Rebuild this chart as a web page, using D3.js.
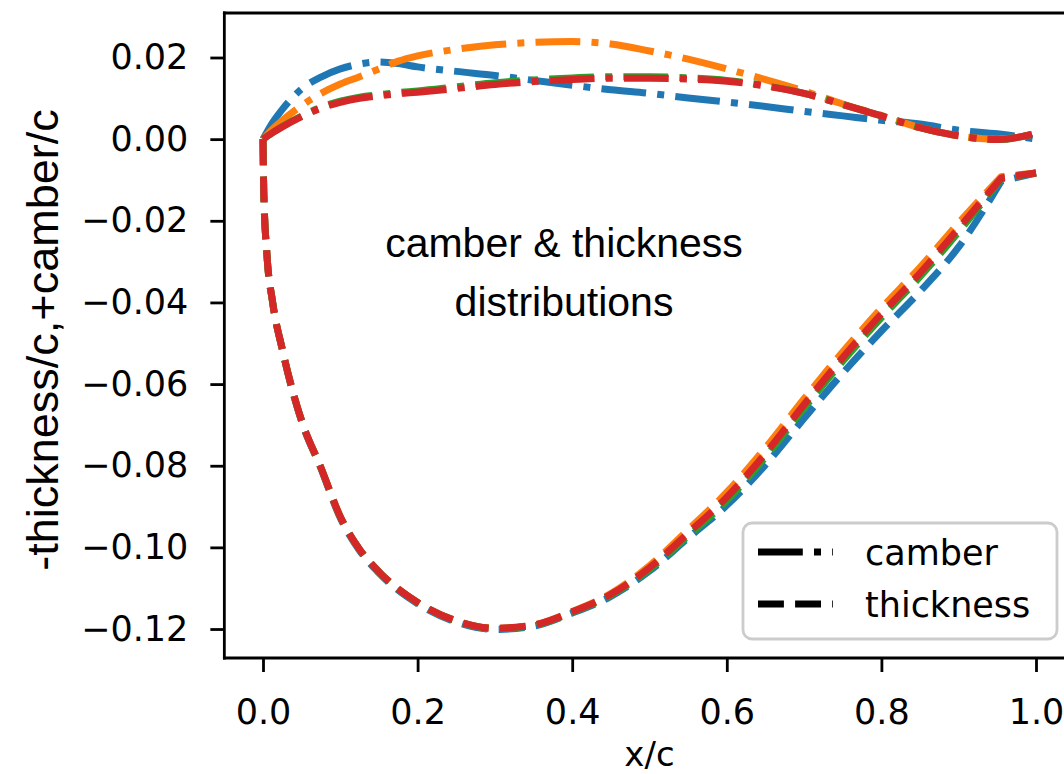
<!DOCTYPE html>
<html>
<head>
<meta charset="utf-8">
<script src="https://cdn.jsdelivr.net/npm/d3@7"></script>
<style>
  html, body { margin: 0; padding: 0; background: #ffffff; }
  svg { display: block; }
</style>
</head>
<body>
<svg id="chart" width="1064" height="774"></svg>
<script>
// ---------- data ----------
const seriesNames = ["airfoil 1", "airfoil 2", "airfoil 3", "airfoil 4"];
const seriesColors = ["#1f77b4", "#ff7f0e", "#2ca02c", "#d62728"];

const camberX = [0, 0.0125, 0.025, 0.05, 0.075, 0.1, 0.125, 0.15, 0.175, 0.2, 0.25, 0.3, 0.35, 0.4, 0.45, 0.5, 0.55, 0.6, 0.65, 0.7, 0.75, 0.8, 0.85, 0.9, 0.95, 1.0];
const camber1 = [0, 0.0041, 0.0073, 0.0123, 0.0152, 0.0172, 0.0184, 0.0189, 0.0185, 0.0177, 0.0166, 0.0156, 0.0144, 0.0132, 0.0121, 0.0112, 0.0101, 0.0091, 0.0080, 0.0068, 0.0057, 0.0046, 0.0037, 0.0022, 0.0013, 0.0000];
const camber2 = [0, 0.0025, 0.0046, 0.0082, 0.0112, 0.0135, 0.0153, 0.0172, 0.0191, 0.0204, 0.0220, 0.0231, 0.0237, 0.0239, 0.0233, 0.0216, 0.0196, 0.0172, 0.0146, 0.0118, 0.0086, 0.0058, 0.0028, 0.0008, 0.0000, 0.0014];
const camber3 = [0, 0.0016, 0.0031, 0.0057, 0.0078, 0.0093, 0.0103, 0.0109, 0.0114, 0.0118, 0.0128, 0.0138, 0.0145, 0.0150, 0.0153, 0.0153, 0.0150, 0.0144, 0.0131, 0.0112, 0.0085, 0.0057, 0.0028, 0.0008, -0.0001, 0.0014];
const camber4 = [0, 0.0016, 0.0030, 0.0055, 0.0076, 0.0090, 0.0100, 0.0106, 0.0111, 0.0115, 0.0124, 0.0134, 0.0141, 0.0146, 0.0149, 0.0149, 0.0147, 0.0142, 0.0130, 0.0112, 0.0085, 0.0057, 0.0028, 0.0008, -0.0001, 0.0014];

const thickX = [0, 0.001, 0.005, 0.0125, 0.025, 0.05, 0.075, 0.1, 0.125, 0.15, 0.2, 0.25, 0.3, 0.35, 0.4, 0.45, 0.5, 0.55, 0.6, 0.65, 0.7, 0.75, 0.8, 0.85, 0.9, 0.955, 1.0];
const thick1 = [0, -0.013, -0.028, -0.040, -0.0516, -0.0692, -0.0807, -0.0928, -0.1008, -0.1063, -0.1138, -0.1183, -0.1201, -0.1193, -0.1161, -0.1120, -0.1058, -0.0977, -0.0897, -0.0798, -0.0684, -0.0573, -0.0470, -0.0373, -0.0264, -0.0103, -0.0083];
const thick2 = [0, -0.013, -0.028, -0.040, -0.0515, -0.069, -0.0805, -0.0925, -0.1005, -0.106, -0.1135, -0.118, -0.1198, -0.119, -0.1157, -0.1113, -0.1045, -0.0957, -0.0865, -0.0756, -0.0636, -0.0521, -0.0414, -0.0314, -0.0205, -0.0092, -0.0083];
const thick3 = [0, -0.013, -0.028, -0.040, -0.0515, -0.069, -0.0805, -0.0925, -0.1005, -0.106, -0.1135, -0.118, -0.1199, -0.1191, -0.1159, -0.1117, -0.1054, -0.0972, -0.0886, -0.0779, -0.0659, -0.0544, -0.0437, -0.0337, -0.0227, -0.0097, -0.0083];
const thick4 = [0, -0.013, -0.028, -0.040, -0.0515, -0.069, -0.0805, -0.0925, -0.1005, -0.106, -0.1135, -0.118, -0.1198, -0.119, -0.1158, -0.1115, -0.105, -0.0965, -0.0877, -0.0770, -0.0650, -0.0535, -0.0428, -0.0328, -0.0218, -0.0095, -0.0083];

const xTicks = [0.0, 0.2, 0.4, 0.6, 0.8, 1.0];
const yTicks = [0.02, 0.00, -0.02, -0.04, -0.06, -0.08, -0.10, -0.12];
const legendLabels = ["camber", "thickness"];
const annotationLines = ["camber & thickness", "distributions"];
const xLabel = "x/c";
const yLabel = "-thickness/c,+camber/c";

const cambers = [camber1, camber2, camber3, camber4];
const thicks = [thick1, thick2, thick3, thick4];

// ---------- layout ----------
const svg = d3.select("#chart");
const plot = { left: 224.35, right: 1074.65, top: 13, bottom: 658 };
const x = d3.scaleLinear().domain([-0.05, 1.05]).range([plot.left, plot.right]);
const y = d3.scaleLinear().domain([-0.1271, 0.0309]).range([plot.bottom, plot.top]);

const LW = 7;
const dashDot = [6.4 * LW, 1.6 * LW, 1 * LW, 1.6 * LW].join(",");
const dashed = [3.7 * LW, 1.6 * LW].join(",");

svg.append("rect").attr("width", 1064).attr("height", 774).attr("fill", "#fff");

svg.append("defs").append("clipPath").attr("id", "clip")
  .append("rect")
  .attr("x", plot.left).attr("y", plot.top)
  .attr("width", plot.right - plot.left).attr("height", plot.bottom - plot.top);

const line = d3.line().x(d => x(d[0])).y(d => y(d[1])).curve(d3.curveMonotoneX);
// thickness: smooth up to the trailing-edge tip, then a straight segment
const thickPath = pts => {
  const body = pts.slice(0, pts.length - 1);
  const last = pts[pts.length - 1];
  return line(body) + `L${x(last[0])},${y(last[1])}`;
};

const g = svg.append("g").attr("clip-path", "url(#clip)");
seriesNames.forEach((name, i) => {
  const cData = camberX.map((xv, k) => [xv, cambers[i][k]]);
  const tData = thickX.map((xv, k) => [xv, thicks[i][k]]);
  g.append("path").datum(cData)
    .attr("d", line).attr("fill", "none")
    .attr("stroke", seriesColors[i]).attr("stroke-width", LW)
    .attr("stroke-dasharray", dashDot).attr("stroke-linecap", "butt")
    .attr("stroke-linejoin", "round");
  g.append("path").datum(tData)
    .attr("d", thickPath).attr("fill", "none")
    .attr("stroke", seriesColors[i]).attr("stroke-width", LW)
    .attr("stroke-dasharray", dashed).attr("stroke-linecap", "butt")
    .attr("stroke-linejoin", "round");
});

// ---------- axes ----------
const fmtY = v => (v < 0 ? "\u2212" : "") + Math.abs(v).toFixed(2);
const yAxis = d3.axisLeft(y).tickValues(yTicks).tickFormat(fmtY).tickSize(14).tickPadding(22);
const xAxis = d3.axisBottom(x).tickValues(xTicks).tickFormat(d3.format(".1f")).tickSize(14).tickPadding(27);

const ya = svg.append("g").attr("transform", `translate(${plot.left},0)`).call(yAxis);
const xa = svg.append("g").attr("transform", `translate(0,${plot.bottom})`).call(xAxis);
[ya, xa].forEach(a => {
  a.select(".domain").remove();
  a.selectAll(".tick line").attr("stroke", "#000").attr("stroke-width", 2.8);
  a.selectAll(".tick text").attr("fill", "#000")
    .style("font-family", "'DejaVu Sans', sans-serif").style("font-size", "35px");
});

// spines
const spine = (x1, y1, x2, y2) => svg.append("line")
  .attr("x1", x1).attr("y1", y1).attr("x2", x2).attr("y2", y2)
  .attr("stroke", "#000").attr("stroke-width", 2.8).attr("stroke-linecap", "square");
spine(plot.left, plot.top, plot.left, plot.bottom);
spine(plot.left, plot.top, plot.right, plot.top);
spine(plot.left, plot.bottom, plot.right, plot.bottom);
spine(plot.right, plot.top, plot.right, plot.bottom);

// axis labels
svg.append("text").text(xLabel)
  .attr("x", (plot.left + plot.right) / 2).attr("y", 766)
  .attr("text-anchor", "middle")
  .style("font-family", "'DejaVu Sans', sans-serif").style("font-size", "34px");

svg.append("text").text(yLabel)
  .attr("transform", `translate(58,340) rotate(-90)`)
  .attr("text-anchor", "middle")
  .style("font-family", "'Liberation Sans', Arial, sans-serif").style("font-size", "45px");

// annotation
annotationLines.forEach((t, i) => {
  svg.append("text").text(t)
    .attr("x", 564).attr("y", 257 + i * 59)
    .attr("text-anchor", "middle")
    .style("font-family", "'Liberation Sans', Arial, sans-serif").style("font-size", "41px");
});

// legend
const lg = svg.append("g");
lg.append("rect").attr("x", 743).attr("y", 523).attr("width", 314).attr("height", 116)
  .attr("rx", 9).attr("fill", "#fff").attr("fill-opacity", 0.8)
  .attr("stroke", "#cccccc").attr("stroke-width", 2.8);
const legDash = [dashDot, dashed];
legendLabels.forEach((lab, i) => {
  const ly = 552 + i * 52;
  lg.append("line").attr("x1", 758).attr("x2", 833).attr("y1", ly).attr("y2", ly)
    .attr("stroke", "#000").attr("stroke-width", LW)
    .attr("stroke-dasharray", legDash[i]).attr("stroke-linecap", "butt");
  lg.append("text").text(lab).attr("x", 865).attr("y", ly + 13)
    .style("font-family", "'DejaVu Sans', sans-serif").style("font-size", "35px");
});
</script>
</body>
</html>
